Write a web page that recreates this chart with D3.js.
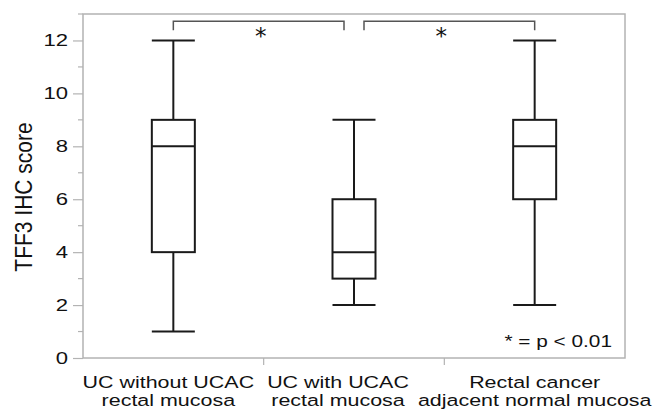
<!DOCTYPE html>
<html>
<head>
<meta charset="utf-8">
<script src="https://cdn.jsdelivr.net/npm/d3@7"></script>
<style>
  body { margin: 0; background: #fff; }
  text { font-family: "Liberation Sans", Arial, sans-serif; fill: #111; }
</style>
</head>
<body>
<svg id="chart"></svg>
<script>
// categories (two-line labels)
const categories = ["g1", "g2", "g3"];
const catLabels = [
  ["UC without UCAC", "rectal mucosa"],
  ["UC with UCAC", "rectal mucosa"],
  ["Rectal cancer", "adjacent normal mucosa"]
];
// box stats
const minVals = [1, 2, 2];
const q1Vals = [4, 3, 6];
const medVals = [8, 4, 8];
const q3Vals = [9, 6, 9];
const maxVals = [12, 9, 12];
// y ticks
const majorTicks = [0, 2, 4, 6, 8, 10, 12];
const minorTicks = [1, 3, 5, 7, 9, 11, 13];
// significance brackets: [from, to, level]
const brackets = [["g1", "g2", 12.73], ["g2", "g3", 12.73]];
const yLabel = "TFF3 IHC score";
const noteText = "* = p < 0.01";

const W = 662, H = 414;
const margin = { top: 14, right: 37, bottom: 56, left: 83 };
const sx = 1.3; // picture is stretched horizontally

const svg = d3.select("#chart").attr("width", W).attr("height", H);

const x = d3.scaleBand().domain(categories).range([margin.left, W - margin.right]);
const y = d3.scaleLinear().domain([0, 13]).range([H - margin.bottom, margin.top]);

const gray = "#b3b3b3";
const ink = "#1a1a1a";

// minor ticks
svg.append("g")
  .selectAll("line")
  .data(minorTicks)
  .join("line")
  .attr("x1", margin.left - 5).attr("x2", margin.left)
  .attr("y1", d => y(d)).attr("y2", d => y(d))
  .attr("stroke", gray).attr("stroke-width", 1.2);

// major ticks + labels
const yAxis = d3.axisLeft(y).tickValues(majorTicks).tickSize(10).tickPadding(5);
const gy = svg.append("g")
  .attr("transform", `translate(${margin.left},0)`)
  .call(yAxis);
gy.select(".domain").remove();
gy.selectAll(".tick line").attr("stroke", gray).attr("stroke-width", 1.2);
gy.selectAll(".tick text")
  .attr("font-size", 17)
  .attr("fill", ink)
  .attr("transform", function () {
    // scale horizontally around right edge of the label
    const xx = +d3.select(this).attr("x");
    return `translate(${xx},0) scale(${sx},1) translate(${-xx},0)`;
  });

// x separators
const bounds = categories.slice(1).map(c => x(c));
svg.append("g")
  .selectAll("line")
  .data(bounds)
  .join("line")
  .attr("x1", d => d).attr("x2", d => d)
  .attr("y1", y(0)).attr("y2", y(0) + 7)
  .attr("stroke", gray).attr("stroke-width", 1.2);

// frame
svg.append("rect")
  .attr("x", margin.left).attr("y", margin.top)
  .attr("width", W - margin.left - margin.right)
  .attr("height", H - margin.top - margin.bottom)
  .attr("fill", "none").attr("stroke", gray).attr("stroke-width", 1.5);

// boxes
const bw = 43;
const boxes = svg.append("g")
  .selectAll("g")
  .data(categories.map((c, i) => ({
    c, min: minVals[i], q1: q1Vals[i], med: medVals[i], q3: q3Vals[i], max: maxVals[i]
  })))
  .join("g")
  .attr("transform", d => `translate(${x(d.c) + x.bandwidth() / 2},0)`)
  .attr("stroke", ink).attr("stroke-width", 2).attr("fill", "none");

boxes.append("line").attr("x1", 0).attr("x2", 0)
  .attr("y1", d => y(d.max)).attr("y2", d => y(d.q3));
boxes.append("line").attr("x1", 0).attr("x2", 0)
  .attr("y1", d => y(d.q1)).attr("y2", d => y(d.min));
boxes.append("line").attr("x1", -bw / 2).attr("x2", bw / 2)
  .attr("y1", d => y(d.max)).attr("y2", d => y(d.max));
boxes.append("line").attr("x1", -bw / 2).attr("x2", bw / 2)
  .attr("y1", d => y(d.min)).attr("y2", d => y(d.min));
boxes.append("rect")
  .attr("x", -bw / 2).attr("width", bw)
  .attr("y", d => y(d.q3)).attr("height", d => y(d.q1) - y(d.q3))
  .attr("fill", "#fff");
boxes.append("line").attr("x1", -bw / 2).attr("x2", bw / 2)
  .attr("y1", d => y(d.med)).attr("y2", d => y(d.med));

// brackets
const cx = c => x(c) + x.bandwidth() / 2;
brackets.forEach(([a, b, lv], i) => {
  const x1 = cx(a) + (i === 0 ? 0 : 10);
  const x2 = cx(b) - (i === 0 ? 10 : 0);
  const y1 = y(lv), y2 = y1 + 9;
  svg.append("path")
    .attr("d", `M${x1},${y2}V${y1}H${x2}V${y2}`)
    .attr("fill", "none").attr("stroke", "#555").attr("stroke-width", 1.5);
  svg.append("text")
    .attr("x", x(b) - 3).attr("y", y1 + 23)
    .attr("text-anchor", "middle")
    .style("font-family", "DejaVu Sans")
    .attr("font-size", 23)
    .text("*");
});

// note
svg.append("text")
  .attr("transform", `translate(${W - margin.right - 13},${y(0) - 11}) scale(${sx},1)`)
  .attr("text-anchor", "end")
  .attr("font-size", 16)
  .text(noteText);

// x labels (middle one sits a bit left of its box in the reference)
const labelShift = [-5, -16, 0];
catLabels.forEach((lines, i) => {
  lines.forEach((s, j) => {
    svg.append("text")
      .attr("transform", `translate(${cx(categories[i]) + labelShift[i]},${y(0) + 30 + j * 18}) scale(${sx},1)`)
      .attr("text-anchor", "middle")
      .attr("font-size", 16.5)
      .text(s);
  });
});

// y label
svg.append("text")
  .attr("transform", `translate(32,${(margin.top + y(0)) / 2 + 11}) scale(1.1,1) rotate(-90)`)
  .attr("text-anchor", "middle")
  .attr("font-size", 21)
  .text(yLabel);
</script>
</body>
</html>
